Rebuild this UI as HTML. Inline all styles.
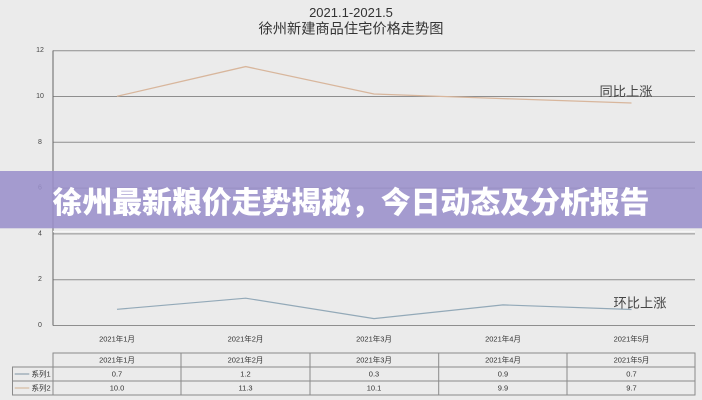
<!DOCTYPE html>
<html>
<head>
<meta charset="utf-8">
<style>
html,body{margin:0;padding:0;background:#ebebeb;}
svg{display:block;}
text{font-family:"Liberation Sans","Noto Sans CJK SC",sans-serif;}
</style>
</head>
<body>
<svg width="702" height="400" viewBox="0 0 702 400" xmlns="http://www.w3.org/2000/svg">
<rect x="0" y="0" width="702" height="400" fill="#ebebeb"/>
<!-- title -->
<text x="351" y="17" font-size="13" fill="#333" text-anchor="middle">2021.1-2021.5</text>
<text x="351" y="28.5" font-size="14" fill="#333" text-anchor="middle" dominant-baseline="central" textLength="185" lengthAdjust="spacingAndGlyphs">徐州新建商品住宅价格走势图</text>

<!-- gridlines -->
<g stroke="#8e8e8e" stroke-width="1">
<line x1="53" y1="50.7" x2="695" y2="50.7"/>
<line x1="53" y1="96.5" x2="695" y2="96.5"/>
<line x1="53" y1="142.3" x2="695" y2="142.3"/>
<line x1="53" y1="188.1" x2="695" y2="188.1"/>
<line x1="53" y1="233.9" x2="695" y2="233.9"/>
<line x1="53" y1="279.7" x2="695" y2="279.7"/>
<line x1="53" y1="325.5" x2="695" y2="325.5"/>
</g>
<line x1="53" y1="50.5" x2="53" y2="325.5" stroke="#666" stroke-width="1"/>

<!-- y labels -->
<g font-size="7" fill="#444" text-anchor="middle" dominant-baseline="central">
<text x="40" y="50.7">12</text>
<text x="40" y="96.5">10</text>
<text x="40" y="142.3">8</text>
<text x="40" y="188.1">6</text>
<text x="40" y="233.9">4</text>
<text x="40" y="279.7">2</text>
<text x="40" y="325.5">0</text>
</g>

<!-- series -->
<polyline points="117,96.3 245.7,66.6 374,94 503,98.6 631.5,103" fill="none" stroke="#d8b69c" stroke-width="1.3"/>
<polyline points="117,309.3 245.7,298.2 374,318.6 503,304.9 631.5,309.5" fill="none" stroke="#93a9b8" stroke-width="1.2"/>

<text x="626" y="91.5" font-size="13" fill="#444" text-anchor="middle" dominant-baseline="central" textLength="53" lengthAdjust="spacingAndGlyphs">同比上涨</text>
<text x="640" y="303" font-size="13" fill="#444" text-anchor="middle" dominant-baseline="central" textLength="53" lengthAdjust="spacingAndGlyphs">环比上涨</text>

<!-- x labels -->
<g font-size="7.5" fill="#333" text-anchor="middle" dominant-baseline="central">
<text x="117" y="339">2021年1月</text>
<text x="245.5" y="339">2021年2月</text>
<text x="374" y="339">2021年3月</text>
<text x="503" y="339">2021年4月</text>
<text x="631.5" y="339">2021年5月</text>
</g>

<!-- table -->
<g stroke="#8a8a8a" stroke-width="1" fill="none">
<rect x="53" y="353" width="642" height="42"/>
<rect x="12.5" y="367" width="40.5" height="28"/>
<line x1="12.5" y1="381" x2="695" y2="381"/>
<line x1="53" y1="367" x2="695" y2="367"/>
<line x1="181" y1="353" x2="181" y2="395"/>
<line x1="310" y1="353" x2="310" y2="395"/>
<line x1="438.7" y1="353" x2="438.7" y2="395"/>
<line x1="567" y1="353" x2="567" y2="395"/>
</g>
<line x1="14.7" y1="374" x2="29.3" y2="374" stroke="#7d93a3" stroke-width="1"/>
<line x1="14.7" y1="388" x2="29.3" y2="388" stroke="#d0b190" stroke-width="1"/>
<g font-size="7.5" fill="#333" dominant-baseline="central">
<text x="31.5" y="374">系列1</text>
<text x="31.5" y="388">系列2</text>
</g>
<g font-size="7.5" fill="#333" text-anchor="middle" dominant-baseline="central">
<text x="117" y="360">2021年1月</text>
<text x="245.5" y="360">2021年2月</text>
<text x="374" y="360">2021年3月</text>
<text x="503" y="360">2021年4月</text>
<text x="631.5" y="360">2021年5月</text>
<text x="117" y="374">0.7</text>
<text x="245.5" y="374">1.2</text>
<text x="374" y="374">0.3</text>
<text x="503" y="374">0.9</text>
<text x="631.5" y="374">0.7</text>
<text x="117" y="388">10.0</text>
<text x="245.5" y="388">11.3</text>
<text x="374" y="388">10.1</text>
<text x="503" y="388">9.9</text>
<text x="631.5" y="388">9.7</text>
</g>

<!-- banner -->
<rect x="0" y="171" width="702" height="57.3" fill="rgba(154,143,203,0.88)"/>
<line x1="53" y1="231.5" x2="695" y2="231.5" stroke="#f6f6f6" stroke-width="1.2"/>
<text x="52.5" y="200" font-size="30" font-weight="900" fill="#ffffff" dominant-baseline="central" textLength="597" lengthAdjust="spacingAndGlyphs" style="font-family:'Noto Sans CJK SC','WenQuanYi Zen Hei',sans-serif;">徐州最新粮价走势揭秘，今日动态及分析报告</text>
</svg>
</body>
</html>
